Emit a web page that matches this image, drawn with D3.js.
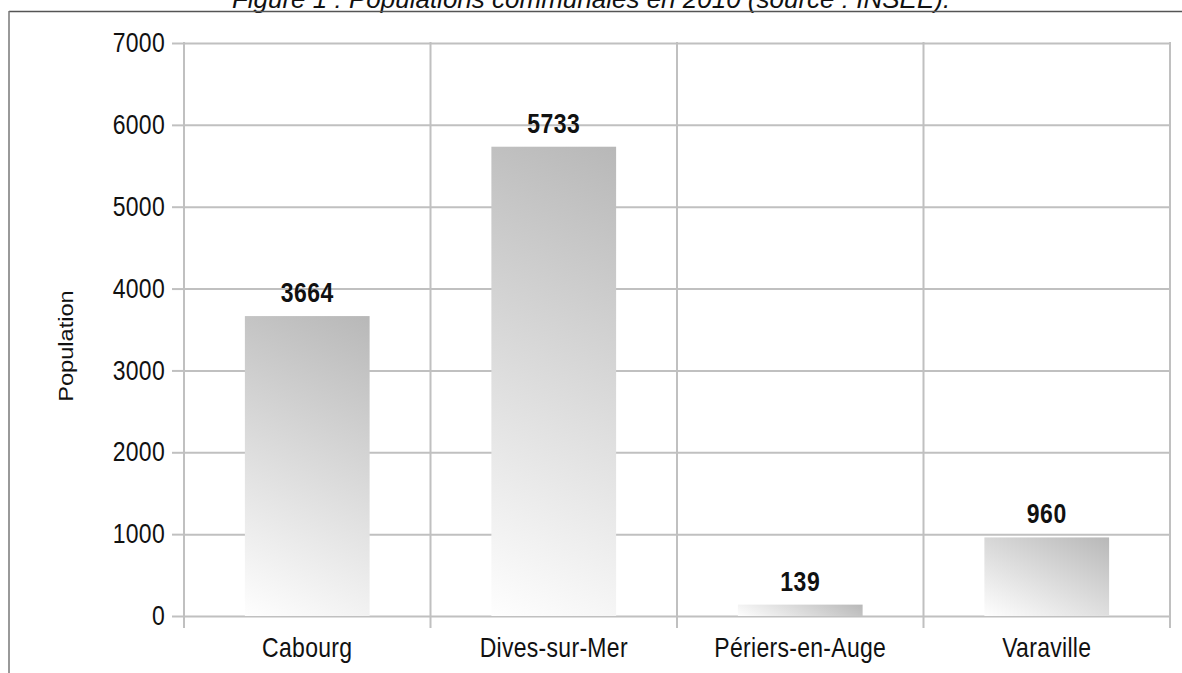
<!DOCTYPE html>
<html>
<head>
<meta charset="utf-8">
<script src="https://cdn.jsdelivr.net/npm/d3@7"></script>
<style>
  html, body { margin: 0; padding: 0; background: #fff; }
  svg { display: block; }
</style>
</head>
<body>
<div id="chart"></div>
<script>
// data
const communes = ['Cabourg', 'Dives-sur-Mer', 'Périers-en-Auge', 'Varaville'];
const populations = [3664, 5733, 139, 960];
const yTicks = [0, 1000, 2000, 3000, 4000, 5000, 6000, 7000];
const titleText = 'Figure 1 : Populations communales en 2010 (source : INSEE).';
const yLabel = 'Population';

const width = 1182;
const height = 673;
const margin = {top: 43, right: 12, bottom: 57, left: 184};
const font = '"Liberation Sans", Arial, sans-serif';
const gridColor = '#c0c0c0';
const stretch = 1.18;

const svg = d3.select('#chart').append('svg')
    .attr('width', width)
    .attr('height', height)
    .attr('font-family', font);

const x = d3.scaleBand()
    .domain(communes)
    .range([margin.left, width - margin.right])
    .padding(0);

const y = d3.scaleLinear()
    .domain([0, 7000])
    .range([height - margin.bottom, margin.top]);

// title, cut by the top of the page like the source page
svg.append('text')
    .attr('x', 591)
    .attr('y', 8)
    .attr('text-anchor', 'middle')
    .attr('font-style', 'italic')
    .attr('font-size', 26)
    .attr('fill', '#111')
    .text(titleText);

// frame
svg.append('line')
    .attr('x1', 9).attr('x2', width)
    .attr('y1', 11.5).attr('y2', 11.5)
    .attr('stroke', '#555').attr('stroke-width', 1.5);
svg.append('line')
    .attr('x1', 9).attr('x2', 9)
    .attr('y1', 11).attr('y2', height)
    .attr('stroke', '#777').attr('stroke-width', 1.5);

// horizontal grid + left ticks
const yAxis = svg.append('g')
    .attr('transform', `translate(${margin.left},0)`)
    .call(d3.axisLeft(y)
        .tickValues(yTicks)
        .tickFormat(d3.format('d'))
        .tickSize(12)
        .tickPadding(7));
yAxis.select('.domain').remove();
yAxis.selectAll('.tick line')
    .attr('stroke', gridColor)
    .attr('stroke-width', 2)
    .attr('x2', x.range()[1] - margin.left);
yAxis.selectAll('.tick line').clone()
    .attr('x1', -12).attr('x2', 0);
yAxis.selectAll('.tick text')
    .attr('font-size', 23)
    .attr('font-family', font)
    .attr('fill', '#111')
    .attr('letter-spacing', 0.3)
    .attr('transform', `scale(1,${stretch})`);

// vertical grid at the band edges
const edges = communes.map((c) => x(c)).concat([x.range()[1]]);
svg.append('g')
    .selectAll('line')
    .data(edges)
    .join('line')
    .attr('x1', (d) => d).attr('x2', (d) => d)
    .attr('y1', y(7000) - 1)
    .attr('y2', y(0) + 12)
    .attr('stroke', gridColor)
    .attr('stroke-width', 2);

// category labels
svg.append('g')
    .selectAll('text')
    .data(communes)
    .join('text')
    .attr('text-anchor', 'middle')
    .attr('font-size', 23)
    .attr('letter-spacing', 0.3)
    .attr('fill', '#111')
    .attr('transform', (d) =>
      `translate(${x(d) + x.bandwidth() / 2},${y(0) + 41}) scale(1,${stretch})`)
    .text((d) => d);

// bars with a diagonal grey gradient
const barWidth = x.bandwidth() * 0.506;
const defs = svg.append('defs');
const bars = communes.map((c, i) => {
  const x0 = x(c) + (x.bandwidth() - barWidth) / 2;
  const top = y(populations[i]);
  const bottom = y(0);
  const h = bottom - top;
  const k = (0.5 * barWidth + h) / 1.25;
  return {c, v: populations[i], x0, top, bottom, h, k, id: 'grad' + i};
});

const grads = defs.selectAll('linearGradient')
    .data(bars)
    .join('linearGradient')
    .attr('id', (d) => d.id)
    .attr('gradientUnits', 'userSpaceOnUse')
    .attr('x1', (d) => d.x0)
    .attr('y1', (d) => d.bottom)
    .attr('x2', (d) => d.x0 + 0.5 * d.k)
    .attr('y2', (d) => d.bottom - d.k);
grads.append('stop').attr('offset', 0).attr('stop-color', '#fefefe');
grads.append('stop').attr('offset', 1).attr('stop-color', '#b8b8b8');

svg.append('g')
    .selectAll('rect')
    .data(bars)
    .join('rect')
    .attr('x', (d) => d.x0)
    .attr('y', (d) => d.top)
    .attr('width', barWidth)
    .attr('height', (d) => d.h)
    .attr('fill', (d) => `url(#${d.id})`);

// value labels
svg.append('g')
    .selectAll('text')
    .data(bars)
    .join('text')
    .attr('text-anchor', 'middle')
    .attr('font-size', 23)
    .attr('font-weight', 'bold')
    .attr('letter-spacing', 0.5)
    .attr('fill', '#111')
    .attr('transform', (d) =>
      `translate(${d.x0 + barWidth / 2},${d.top - 14}) scale(1,${stretch})`)
    .text((d) => d.v);

// y axis title
svg.append('text')
    .attr('text-anchor', 'middle')
    .attr('font-size', 20)
    .attr('fill', '#111')
    .attr('transform', `translate(73,346) rotate(-90) scale(${stretch},1)`)
    .text(yLabel);
</script>
</body>
</html>
